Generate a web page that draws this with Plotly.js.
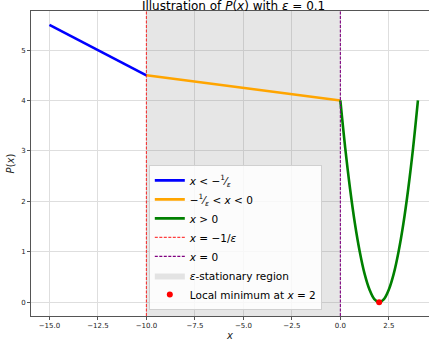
<!DOCTYPE html>
<html>
<head>
<meta charset="utf-8">
<script src="https://cdn.plot.ly/plotly-3.0.1.min.js"></script>
<style>html,body{margin:0;padding:0;overflow:hidden;background:#fff}</style>
</head>
<body>
<div id="chart" style="width:429px;height:343px"></div>
<script>
// Segment x < -1/eps
const xLeft = [-15, -10];
const yLeft = [5.5, 4.5];
// Segment -1/eps < x < 0
const xMid = [-10, 0];
const yMid = [4.5, 4.0];
// Segment x > 0
const xRight = [0, 0.25, 0.5, 0.75, 1, 1.25, 1.5, 1.75, 2, 2.25, 2.5, 2.75, 3, 3.25, 3.5, 3.75, 4];
const yRight = [4.0, 3.06, 2.25, 1.56, 1.0, 0.56, 0.25, 0.06, 0.0, 0.06, 0.25, 0.56, 1.0, 1.56, 2.25, 3.06, 4.0];
// Vertical reference lines and region
const xEpsLine = -10;
const xZeroLine = 0;
const regionX = [-10, 0];
// Local minimum
const xMin = [2];
const yMin = [0];
const xTicks = [-15, -12.5, -10, -7.5, -5, -2.5, 0, 2.5];
const xTickText = ['−15.0', '−12.5', '−10.0', '−7.5', '−5.0', '−2.5', '0.0', '2.5'];
const yTicks = [0, 1, 2, 3, 4, 5];

const yLo = -0.275, yHi = 5.775;

const traces = [
  {x: xLeft, y: yLeft, mode: 'lines', line: {color: 'blue', width: 2.6},
   name: '<i>x</i> < −<sup>1</sup>⁄<sub><i>ε</i></sub>'},
  {x: xMid, y: yMid, mode: 'lines', line: {color: 'orange', width: 2.6},
   name: '−<sup>1</sup>⁄<sub><i>ε</i></sub> < <i>x</i> < 0'},
  {x: xRight, y: yRight, mode: 'lines', line: {color: 'green', width: 2.6, shape: 'spline'},
   name: '<i>x</i> > 0'},
  {x: [xEpsLine, xEpsLine], y: [yLo, yHi], mode: 'lines', line: {color: 'rgba(255,0,0,0.75)', width: 1.1, dash: '3px,1.5px'},
   name: '<i>x</i> = −1/<i>ε</i>'},
  {x: [xZeroLine, xZeroLine], y: [yLo, yHi], mode: 'lines', line: {color: 'purple', width: 1.1, dash: '3px,1.5px'},
   name: '<i>x</i> = 0'},
  {x: [regionX[0], regionX[1], regionX[1], regionX[0]], y: [yLo - 1, yLo - 1, yHi + 1, yHi + 1],
   mode: 'lines', fill: 'toself', fillcolor: 'rgba(128,128,128,0.2)', line: {width: 0},
   name: '<i>ε</i>-stationary region', hoverinfo: 'skip'},
  {x: xMin, y: yMin, mode: 'markers', marker: {color: 'red', size: 6},
   name: 'Local minimum at <i>x</i> = 2'}
];
// draw region beneath the lines
const order = [5, 0, 1, 2, 3, 4, 6];
const data = order.map(i => traces[i]);
data.forEach((t) => { t.legendrank = traces.indexOf(t) + 1; });

const layout = {
  width: 429, height: 343,
  margin: {l: 31, r: 0, t: 11, b: 27},
  paper_bgcolor: '#fff', plot_bgcolor: '#fff',
  font: {family: 'DejaVu Sans, sans-serif', color: '#222'},
  showlegend: true,
  title: {text: 'Illustration of <i>P</i>(<i>x</i>) with <i>ε</i> = 0.1', font: {size: 12, color: '#000'},
          xref: 'paper', x: 0.509, xanchor: 'center', yref: 'container', y: 0.983, yanchor: 'middle'},
  xaxis: {range: [-15.95, 4.57], tickvals: xTicks, ticktext: xTickText, tickfont: {size: 7},
          showgrid: true, gridcolor: '#dedede', gridwidth: 1, zeroline: false,
          showline: true, linecolor: '#555', linewidth: 1, mirror: true,
          ticks: 'outside', ticklen: 3, tickcolor: '#555',
          title: {text: '<i>x</i>', font: {size: 10}, standoff: 2}},
  yaxis: {range: [yLo, yHi], tickvals: yTicks, tickfont: {size: 7},
          showgrid: true, gridcolor: '#dedede', gridwidth: 1, zeroline: false,
          showline: true, linecolor: '#555', linewidth: 1,
          ticks: 'outside', ticklen: 3, tickcolor: '#555',
          title: {text: '<i>P</i>(<i>x</i>)', font: {size: 10}, standoff: 4}},
  legend: {x: 0.296, y: 0.02, xanchor: 'left', yanchor: 'bottom',
           bgcolor: 'rgba(255,255,255,0.85)', bordercolor: '#d0d0d0', borderwidth: 1,
           font: {size: 10.5, color: '#000'}, tracegroupgap: 0, itemwidth: 30}
};

Plotly.newPlot('chart', data, layout, {displayModeBar: false, staticPlot: true});
</script>
</body>
</html>
